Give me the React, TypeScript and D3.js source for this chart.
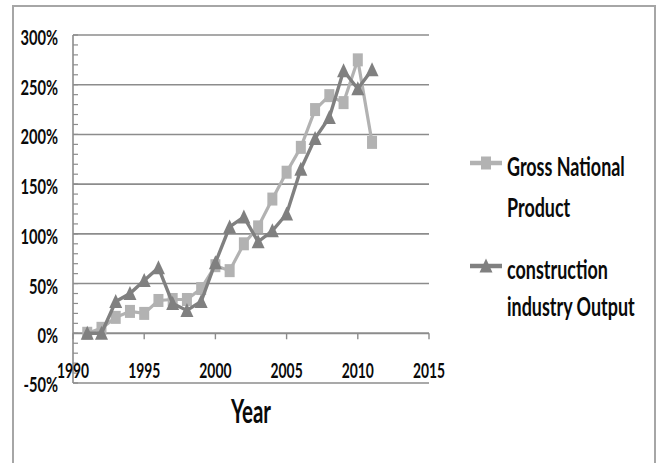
import React from "react";
import * as d3 from "d3";

// Years covered by both series
const years = [
  1991, 1992, 1993, 1994, 1995, 1996, 1997, 1998, 1999, 2000, 2001,
  2002, 2003, 2004, 2005, 2006, 2007, 2008, 2009, 2010, 2011,
];

// Cumulative growth (%) relative to 1991
const gnp = [
  0, 5, 16, 22, 20, 33, 34, 34, 45, 68, 63, 90, 107, 135, 162, 187, 225, 239,
  232, 275, 192,
];
const construction = [
  0, 0, 32, 40, 53, 66, 30, 23, 32, 71, 107, 117, 92, 103, 120, 165, 196, 217,
  264, 246, 265,
];

const yTicks = [-50, 0, 50, 100, 150, 200, 250, 300];
const yMinorTicks = d3.range(-50, 301, 10);
const xTicks = [1990, 1995, 2000, 2005, 2010, 2015];

const seriesNames = ["Gross National Product", "construction industry Output"];
const legendLines = [
  ["Gross National", "Product"],
  ["construction", "industry Output"],
];

const GNP_COLOR = "#b2b2b2";
const CON_COLOR = "#808080";
const GRID = "#8c8c8c";
const FONT = "Lato, 'Open Sans', sans-serif";

type TProps = {
  x: number;
  y: number;
  anchor?: "start" | "middle" | "end";
  size: number;
  sx: number;
  weight?: number;
  children: React.ReactNode;
};

// Condensed text: horizontally squeezed glyphs
function T({ x, y, anchor = "start", size, sx, weight = 700, children }: TProps) {
  return (
    <text
      transform={`translate(${x},${y}) scale(${sx},1)`}
      textAnchor={anchor}
      fontSize={size}
      fontWeight={weight}
      fontFamily={FONT}
      fill="#0a0a0a"
    >
      {children}
    </text>
  );
}

function Square({ cx, cy, color }: { cx: number; cy: number; color: string }) {
  return <rect x={cx - 5} y={cy - 6.5} width={10} height={13} fill={color} />;
}

function Triangle({ cx, cy, color }: { cx: number; cy: number; color: string }) {
  const w = 6.5;
  const h = 7.5;
  return (
    <path
      d={`M${cx},${cy - h}L${cx + w},${cy + h - 1}L${cx - w},${cy + h - 1}Z`}
      fill={color}
    />
  );
}

export default function App() {
  const width = 657;
  const height = 463;
  const x = d3.scaleLinear().domain([1990, 2015]).range([73, 429]);
  const y = d3.scaleLinear().domain([-50, 300]).range([383, 35]);

  const line = d3
    .line<number>()
    .x((_, i) => x(years[i]))
    .y((d) => y(d));

  const gnpPath = line(gnp) || "";
  const conPath = line(construction) || "";

  const legendX = 470;
  const legendY = [163, 266];

  return (
    <svg
      width={width}
      height={height}
      style={{ position: "absolute", left: 0, top: 0, background: "#fff" }}
    >
      {/* chart frame */}
      <rect
        x={13}
        y={6}
        width={642}
        height={480}
        fill="#fff"
        stroke="#a6a6a6"
        strokeWidth={2}
      />

      {/* horizontal gridlines */}
      {yTicks.map((t) => (
        <line
          key={t}
          x1={x(1990)}
          x2={x(2015)}
          y1={y(t)}
          y2={y(t)}
          stroke={GRID}
          strokeWidth={1.6}
        />
      ))}

      {/* value axis */}
      <line x1={x(1990)} x2={x(1990)} y1={y(300)} y2={y(-50)} stroke={GRID} strokeWidth={1.6} />
      {yMinorTicks.map((t) => (
        <line
          key={t}
          x1={x(1990)}
          x2={x(1990) + 5}
          y1={y(t)}
          y2={y(t)}
          stroke={GRID}
          strokeWidth={1.2}
        />
      ))}
      {yTicks.map((t) => (
        <T key={t} x={58} y={y(t) + (t === -50 ? 8.5 : 10)} anchor="end" size={21} sx={0.7}>
          {`${t}%`}
        </T>
      ))}

      {/* category axis, crossing at 0% */}
      <line x1={x(1990)} x2={x(2015)} y1={y(0)} y2={y(0)} stroke={GRID} strokeWidth={1.8} />
      {xTicks.map((t) => (
        <line key={t} x1={x(t)} x2={x(t)} y1={y(0)} y2={y(0) + 6} stroke={GRID} strokeWidth={1.4} />
      ))}
      {xTicks.map((t) => (
        <T key={t} x={x(t)} y={378} anchor="middle" size={21} sx={0.66}>
          {t}
        </T>
      ))}
      <T x={(x(1990) + x(2015)) / 2} y={423} anchor="middle" size={32} sx={0.64}>
        Year
      </T>

      {/* series */}
      <path d={gnpPath} fill="none" stroke={GNP_COLOR} strokeWidth={3.2} />
      {gnp.map((v, i) => (
        <Square key={i} cx={x(years[i])} cy={y(v)} color={GNP_COLOR} />
      ))}
      <path d={conPath} fill="none" stroke={CON_COLOR} strokeWidth={3.4} />
      {construction.map((v, i) => (
        <Triangle key={i} cx={x(years[i])} cy={y(v)} color={CON_COLOR} />
      ))}

      {/* legend */}
      {seriesNames.map((name, i) => {
        const color = i === 0 ? GNP_COLOR : CON_COLOR;
        const ly = legendY[i];
        return (
          <g key={name}>
            <line x1={legendX} x2={legendX + 32} y1={ly} y2={ly} stroke={color} strokeWidth={4.5} />
            {i === 0 ? (
              <Square cx={legendX + 16} cy={ly} color={color} />
            ) : (
              <Triangle cx={legendX + 16} cy={ly} color={color} />
            )}
            <T x={507} y={ly + 13} size={26} sx={0.69}>
              {legendLines[i][0]}
            </T>
            <T x={507} y={ly + 13 + (i === 0 ? 41 : 37)} size={26} sx={0.69}>
              {legendLines[i][1]}
            </T>
          </g>
        );
      })}
    </svg>
  );
}
